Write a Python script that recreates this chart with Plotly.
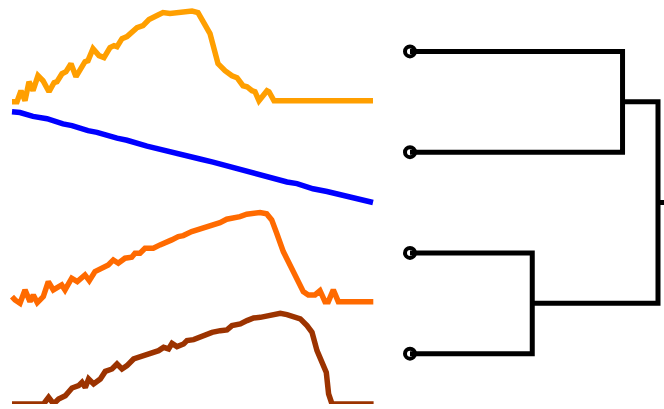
import plotly.graph_objects as go

# ---- sparkline series: (time, value) readings ----
amber_t = [0, 5, 9, 13, 17, 21, 26, 31, 37, 42, 45, 50, 54, 59, 64, 70, 73, 76, 81, 87, 92, 98, 102, 105,
           110, 115, 120, 125, 131, 137, 145, 151, 158, 165, 173, 180, 186, 191, 198, 206, 213, 220, 225,
           231, 235, 240, 243, 247, 255, 257, 262, 361]
amber_v = [0, 0, 11, 1, 20, 11, 26, 21, 10, 19, 20, 28, 30, 38, 25, 36, 40, 41, 53, 46, 44, 54, 56, 55,
           63, 65, 69, 74, 76, 82, 86, 89, 88, 89, 89, 90.5, 89, 81, 68, 38, 31, 26, 24, 16, 15, 11, 10,
           1, 11, 10, 1, 1]

blue_t = [0, 8, 21, 35, 51, 60, 76, 85, 105, 115, 135, 145, 160, 168, 188, 201, 221, 231, 248, 261,
          275, 285, 301, 315, 325, 331, 348, 361]
blue_v = [88.7, 88, 84.3, 82, 77, 75.3, 70.3, 68.7, 63, 61, 55.3, 52.7, 48.7, 48, 42.7, 39.7, 34.3, 32,
          27, 24.3, 20.3, 18.7, 13.7, 11, 8.7, 8, 3.7, 0.3]

tangerine_t = [0, 3, 8, 13, 18, 21.3, 25.3, 31.3, 36.3, 41.3, 49.7, 53, 59.7, 65.3, 73, 77.3, 83, 91.3,
               96.3, 101.3, 106.3, 113, 119.7, 123, 128, 133, 141.3, 148, 153, 159.7, 166.3, 171.3,
               179.7, 188, 194.7, 201.3, 208, 214.7, 221.3, 228, 234.7, 241.3, 248, 254.7, 259.7, 264.7,
               271.3, 278, 284.7, 291.3, 296.3, 303, 308, 313, 316.3, 321.3, 326.3, 361.3]
tangerine_v = [6.6, 3.3, 0, 13.3, 1.6, 8.3, 0.6, 6.6, 21.6, 13.3, 18.3, 13.3, 25, 21.6, 28.3, 22.6, 31.6,
               35, 38.3, 43.3, 40, 45, 46, 50, 50, 55, 55, 58.3, 61, 63.3, 66.6, 67.6, 71.6, 74, 75.6,
               78.3, 80.6, 84, 85, 86.6, 89, 90, 90.6, 89.3, 83.3, 70, 51.6, 38.3, 25, 11.6, 8.3, 8.3,
               12.6, 1.6, 1.6, 13.3, 1.6, 1.6]

rust_t = [0, 31.6, 36.6, 41.6, 46.6, 53.3, 60, 66.6, 70, 73.3, 76.6, 81.6, 88.3, 93.3, 100, 105, 110,
          115, 121.6, 128.3, 135, 141.6, 146.6, 151.6, 156.6, 160, 165, 171.6, 175, 181.6, 188.3, 195,
          200, 208.3, 215, 220, 228.3, 235, 241.6, 248.3, 255, 261.6, 268.3, 275, 281.6, 288.3, 295,
          300, 305, 310, 314.3, 316.6, 320, 361.6]
rust_v = [0, 0, 6.6, 0, 5, 8.3, 16, 18.3, 21.6, 16.6, 25, 20, 25, 32.6, 35, 40, 35, 38.3, 45, 47.3, 50,
          51.6, 53.3, 56.6, 55, 60.6, 57.3, 60, 63.3, 64.3, 67.3, 69.3, 71.6, 73.3, 74, 78.3, 80, 83.3,
          86, 86.6, 88.3, 89.3, 90.6, 89.3, 87.3, 85, 78.3, 71.6, 53.3, 40, 31.6, 10, 0, 0]

series = [
    (amber_t, amber_v, "#ff9f00"),
    (blue_t, blue_v, "#0000ff"),
    (tangerine_t, tangerine_v, "#ff6a00"),
    (rust_t, rust_v, "#9c3300"),
]

# ---- dendrogram: leaf order top to bottom, merge heights ----
leaf_pos = [35, 25, 15, 5]
merge_top = 0.857      # leaves 1 + 2
merge_bottom = 0.493   # leaves 3 + 4
merge_root = 1.0

fig = go.Figure()

# sparklines, each in its own horizontal band of the shared left axis
for k, (t, v, color) in enumerate(series):
    lo, hi = min(v), max(v)
    base = 10 * (3 - k)
    y = [base + (val - lo) / (hi - lo) * 9.0 for val in v]
    fig.add_trace(go.Scatter(x=t, y=y, mode="lines",
                             line=dict(color=color, width=5.5),
                             xaxis="x", yaxis="y", hoverinfo="skip"))

# leaf markers (drawn first so the links sit on top)
fig.add_trace(go.Scatter(x=[0] * 4, y=leaf_pos, mode="markers",
                         marker=dict(symbol="circle", size=10, color="white",
                                     line=dict(color="black", width=4)),
                         xaxis="x2", yaxis="y2", hoverinfo="skip"))

top_mid = (leaf_pos[0] + leaf_pos[1]) / 2
bot_mid = (leaf_pos[2] + leaf_pos[3]) / 2
root_mid = (top_mid + bot_mid) / 2
links = [
    ([0, merge_top, merge_top, 0], [leaf_pos[0], leaf_pos[0], leaf_pos[1], leaf_pos[1]]),
    ([0, merge_bottom, merge_bottom, 0], [leaf_pos[2], leaf_pos[2], leaf_pos[3], leaf_pos[3]]),
    ([merge_top, merge_root, merge_root, merge_bottom], [top_mid, top_mid, bot_mid, bot_mid]),
    ([merge_root, merge_root + 0.1], [root_mid, root_mid]),
]
for lx, ly in links:
    fig.add_trace(go.Scatter(x=lx, y=ly, mode="lines",
                             line=dict(color="black", width=5),
                             xaxis="x2", yaxis="y2", hoverinfo="skip"))

W, H = 664, 409
hidden = dict(visible=False, showgrid=False, zeroline=False, fixedrange=True)
fig.update_layout(
    width=W, height=H,
    margin=dict(l=0, r=0, t=1, b=5),
    paper_bgcolor="white", plot_bgcolor="rgba(0,0,0,0)",
    showlegend=False,
    xaxis=dict(domain=[4 / W, 381 / W], range=[-8, 369], **hidden),
    yaxis=dict(domain=[0, 1], range=[0, 40], **hidden),
    xaxis2=dict(domain=[395 / W, 1], range=[-15 / 248, 254 / 248], **hidden),
    yaxis2=dict(domain=[0, 1], range=[0, 40], anchor="x2", **hidden),
)

fig.write_html("out.html")
